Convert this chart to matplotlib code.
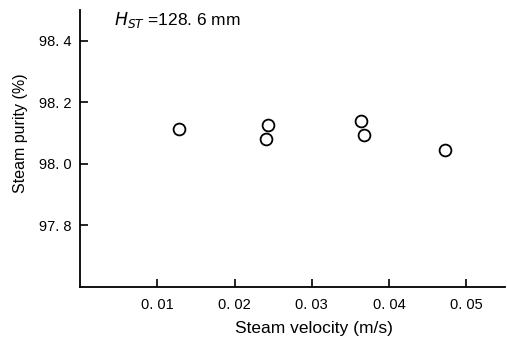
import matplotlib
matplotlib.use("Agg")
import matplotlib.pyplot as plt

plt.rcParams['font.family'] = ['Liberation Sans', 'DejaVu Sans']

velocity = [0.0128, 0.0243, 0.0240, 0.0364, 0.0367, 0.0472]
purity = [98.113, 98.127, 98.082, 98.139, 98.093, 98.044]

x_ticks = [0.01, 0.02, 0.03, 0.04, 0.05]
x_tick_labels = ["0. 01", "0. 02", "0. 03", "0. 04", "0. 05"]
y_ticks = [97.8, 98.0, 98.2, 98.4]
y_tick_labels = ["97. 8", "98. 0", "98. 2", "98. 4"]

fig = plt.figure(figsize=(5.07, 3.45), dpi=100)
ax = fig.add_axes([0.158, 0.168, 0.838, 0.803])

ax.plot(velocity, purity, linestyle='none', marker='o', markersize=8.5,
        markerfacecolor='white', markeredgecolor='black', markeredgewidth=1.3)

ax.set_xlim(0.0, 0.055)
ax.set_ylim(97.6, 98.5)
ax.set_xticks(x_ticks)
ax.set_xticklabels(x_tick_labels)
ax.set_yticks(y_ticks)
ax.set_yticklabels(y_tick_labels)
ax.tick_params(direction='in', length=6, width=1.2, labelsize=10.5, pad=6, colors='black')
ax.tick_params(axis='x', pad=8)

for s in ['top', 'right']:
    ax.spines[s].set_visible(False)
for s in ['left', 'bottom']:
    ax.spines[s].set_linewidth(1.3)

ax.set_xlabel("Steam velocity (m/s)", fontsize=12.5)
ax.xaxis.set_label_coords(0.55, -0.123)
ax.set_ylabel("Steam purity (%)", fontsize=11.5)
ax.yaxis.set_label_coords(-0.122, 0.556)

ax.text(0.08, 0.965, r"$H_{ST}$ =128. 6 mm", transform=ax.transAxes,
        fontsize=12.5, ha='left', va='center')

fig.savefig("out.png", dpi=100)
